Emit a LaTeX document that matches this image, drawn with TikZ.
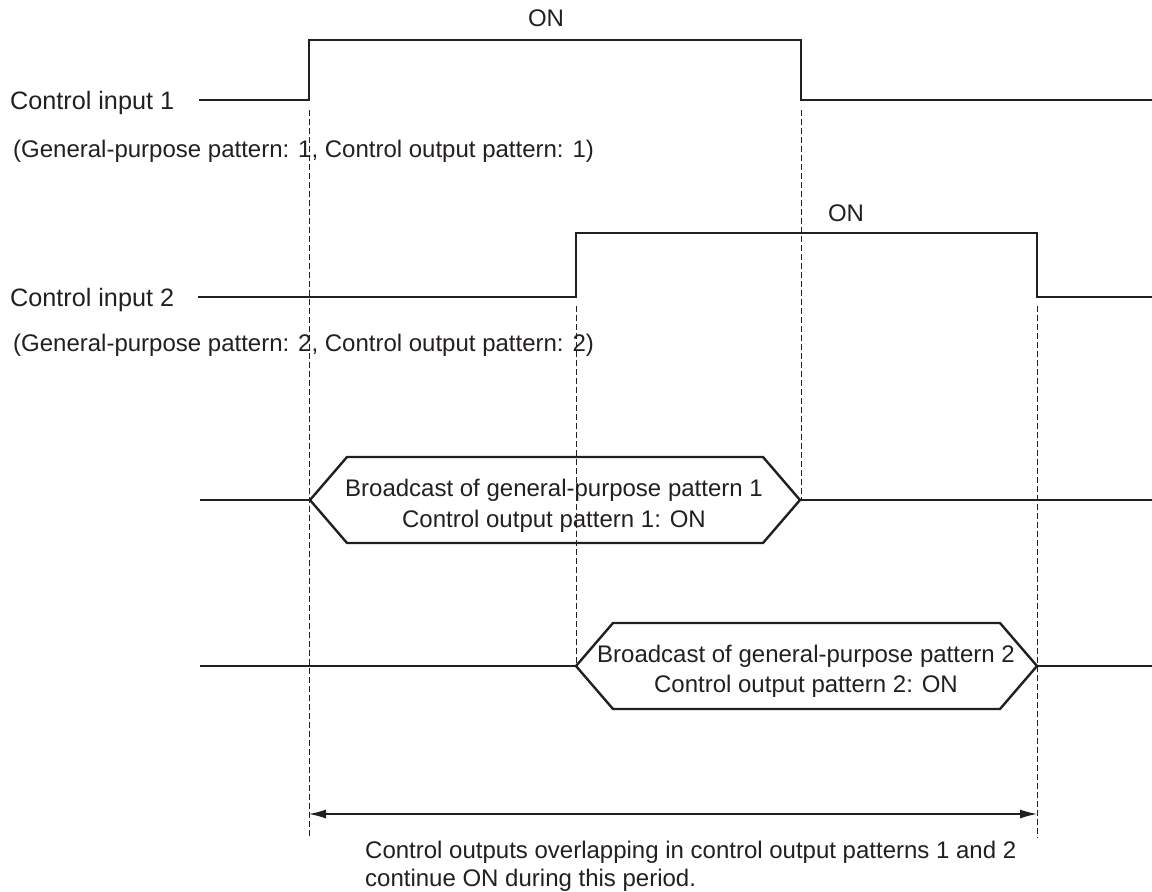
\documentclass[tikz,border=0pt]{standalone}
\usepackage{fontspec}
\setmainfont{Liberation Sans}
\usetikzlibrary{arrows.meta}
\definecolor{ink}{HTML}{231F20}
\begin{document}
\begin{tikzpicture}[x=1pt,y=-1pt,
  sig/.style={line width=2.4pt, draw=ink, line join=miter},
  guide/.style={line width=1pt, draw=ink, dash pattern=on 5.5pt off 3.5pt},
  span/.style={line width=1.2pt, draw=ink, {Latex[length=17pt,width=9pt]}-{Latex[length=17pt,width=9pt]}},
  lbl/.style={font=\fontsize{25.2}{30}\selectfont, text=ink, inner sep=0pt},
  txt/.style={font=\fontsize{24}{30}\selectfont, text=ink, inner sep=0pt},
]
\useasboundingbox (0,0) rectangle (1152,892);

% dashed guides
\draw[guide] (309,110) -- (309,838);
\draw[guide] (801,110) -- (801,500);
\draw[guide] (576,306) -- (576,666);
\draw[guide] (1037,306) -- (1037,838);

% control input 1
\draw[sig] (199,100) -- (309,100) -- (309,40) -- (801,40) -- (801,100) -- (1152,100);
% control input 2
\draw[sig] (198,297) -- (576,297) -- (576,233) -- (1037,233) -- (1037,297) -- (1152,297);

% broadcast 1
\draw[sig] (200,500) -- (310,500);
\draw[sig] (310,500) -- (347,457) -- (763,457) -- (800,500) -- (763,543) -- (347,543) -- cycle;
\draw[sig] (800,500) -- (1152,500);

% broadcast 2
\draw[sig] (200,666) -- (576,666);
\draw[sig] (576,666) -- (613,623) -- (1000,623) -- (1037,666) -- (1000,709) -- (613,709) -- cycle;
\draw[sig] (1037,666) -- (1152,666);

% period arrow
\coordinate (pa) at (309,814);
\coordinate (pb) at (1037,814);
\draw[span] (pa) -- (pb);

% texts
\node[txt] (on1) at (546,18) {ON};
\node[txt] (on2) at (846,213) {ON};
\node[lbl, anchor=base west] (in1) at (10,109.5) {Control input 1};
\node[lbl, anchor=base west] (in2) at (10,306.5) {Control input 2};
\node[txt, anchor=base west] (g1) at (13,157) {(General-purpose pattern: 1, Control output pattern: 1)};
\node[txt, anchor=base west] (g2) at (13,351) {(General-purpose pattern: 2, Control output pattern: 2)};

\node[txt, anchor=base] (b1a) at (554,496) {Broadcast of general-purpose pattern 1};
\node[txt, anchor=base] (b1b) at (554,527) {Control output pattern 1: ON};
\node[txt, anchor=base] (b2a) at (806,662) {Broadcast of general-purpose pattern 2};
\node[txt, anchor=base] (b2b) at (806,692) {Control output pattern 2: ON};

\node[txt, anchor=base west] (n1) at (365,858) {Control outputs overlapping in control output patterns 1 and 2};
\node[txt, anchor=base west] (n2) at (365,886) {continue ON during this period.};
\end{tikzpicture}
\end{document}
